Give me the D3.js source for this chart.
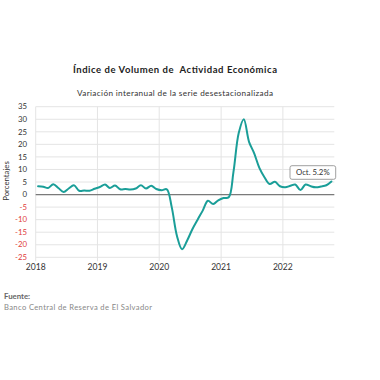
<!DOCTYPE html>
<html><head><meta charset="utf-8">
<script src="https://cdn.jsdelivr.net/npm/d3@7"></script>
<style>html,body{margin:0;padding:0;background:#fff}svg{display:block}</style>
</head><body>
<script>
const title = "Índice de Volumen de  Actividad Económica";
const subtitle = "Variación interanual de la serie desestacionalizada";
const yTicks = [35,30,25,20,15,10,5,0,-5,-10,-15,-20,-25];
const xTickYears = [2018,2019,2020,2021,2022];
const startYear = 2018;
const values = [
  3.3,3.1,2.6,4.1,2.6,1.0,2.4,3.7,1.5,1.6,1.5,2.3,
  3.0,4.0,2.6,3.6,2.1,2.2,2.0,2.4,3.7,2.4,3.5,2.2,
  1.7,2.1,-5.0,-16.5,-21.8,-18.2,-13.8,-10.0,-6.3,-2.5,-3.8,-2.3,
  -1.4,-1.1,9.0,24.5,30.0,21.0,16.5,10.6,6.8,4.2,5.1,3.3,
  2.9,3.5,4.0,1.8,4.0,3.3,2.9,3.2,3.7,5.2
];
const annotation = "Oct. 5.2%";
const yTitle = "Porcentajes";
const sourceLabel = "Fuente:";
const sourceText = "Banco Central de Reserva de El Salvador";

const W = 380, H = 380;
const svg = d3.select("body").append("svg").attr("width", W).attr("height", H);
const font = "Lato, 'Open Sans', sans-serif";

const x = d3.scaleTime().domain([new Date(2018,0,1), new Date(2022,10,1)]).range([35.7, 334.3]);
const y = d3.scaleLinear().domain([-25, 35]).range([257.3, 106.7]);

const data = values.map((v,i) => ({date: new Date(startYear, i, 15), v}));

// grid
svg.append("g").selectAll("line").data(yTicks).join("line")
  .attr("x1", x.range()[0]).attr("x2", x.range()[1])
  .attr("y1", d => y(d)).attr("y2", d => y(d))
  .attr("stroke", "#e4e4e4").attr("stroke-width", 1);
svg.append("g").selectAll("line").data(xTickYears).join("line")
  .attr("x1", d => x(new Date(d,0,1))).attr("x2", d => x(new Date(d,0,1)))
  .attr("y1", y(35)).attr("y2", y(-25) + 4)
  .attr("stroke", "#e4e4e4").attr("stroke-width", 1);

// zero line
svg.append("line").attr("x1", x.range()[0]).attr("x2", x.range()[1])
  .attr("y1", y(0)).attr("y2", y(0)).attr("stroke", "#7a7a7a").attr("stroke-width", 1.2);

// y labels
svg.append("g").selectAll("text").data(yTicks).join("text")
  .attr("x", 27).attr("y", d => y(d)).attr("dy", "0.35em")
  .attr("text-anchor", "end").attr("font-family", font).attr("font-size", 7.8)
  .attr("fill", d => d < 0 ? "#e03c3c" : "#333").text(d => d);

// x labels
svg.append("g").selectAll("text").data(xTickYears).join("text")
  .attr("x", d => x(new Date(d,0,1))).attr("y", 270)
  .attr("text-anchor", "middle").attr("font-family", font).attr("font-size", 8.6)
  .attr("fill", "#333").text(d => d);

// y title
svg.append("text").attr("transform", "translate(9,181) rotate(-90)")
  .attr("text-anchor", "middle").attr("font-family", font).attr("font-size", 7.8)
  .attr("fill", "#333").text(yTitle);

// line
const line = d3.line().x(d => x(d.date)).y(d => y(d.v)).curve(d3.curveCatmullRom.alpha(0.5));
svg.append("path").datum(data).attr("d", line).attr("fill", "none")
  .attr("stroke", "#1a9e98").attr("stroke-width", 2).attr("stroke-linejoin", "round").attr("stroke-linecap", "round");

// annotation
const g = svg.append("g");
g.append("rect").attr("x", 290).attr("y", 165.7).attr("width", 45.7).attr("height", 13.6)
  .attr("rx", 2).attr("fill", "#fff").attr("stroke", "#888").attr("stroke-width", 0.8);
g.append("text").attr("x", 312.8).attr("y", 172.5).attr("dy", "0.35em").attr("text-anchor", "middle")
  .attr("font-family", font).attr("font-size", 7.8).attr("fill", "#333").text(annotation);

// titles
svg.append("text").attr("x", 175).attr("y", 73).attr("text-anchor", "middle")
  .attr("font-family", font).attr("font-size", 9.5).attr("font-weight", "bold").attr("fill", "#222")
  .attr("textLength", 204).attr("lengthAdjust", "spacing")
  .style("white-space", "pre").text(title);
svg.append("text").attr("x", 175).attr("y", 96).attr("text-anchor", "middle")
  .attr("font-family", font).attr("font-size", 8.2).attr("fill", "#333")
  .attr("textLength", 196).attr("lengthAdjust", "spacing").text(subtitle);

// source
svg.append("text").attr("x", 4).attr("y", 298.5).attr("font-family", font).attr("font-size", 7.8)
  .attr("font-weight", "bold").attr("fill", "#666").text(sourceLabel);
svg.append("text").attr("x", 4).attr("y", 309.5).attr("font-family", font).attr("font-size", 7.6)
  .attr("fill", "#888").attr("textLength", 148).attr("lengthAdjust", "spacing").text(sourceText);
</script>
</body></html>
